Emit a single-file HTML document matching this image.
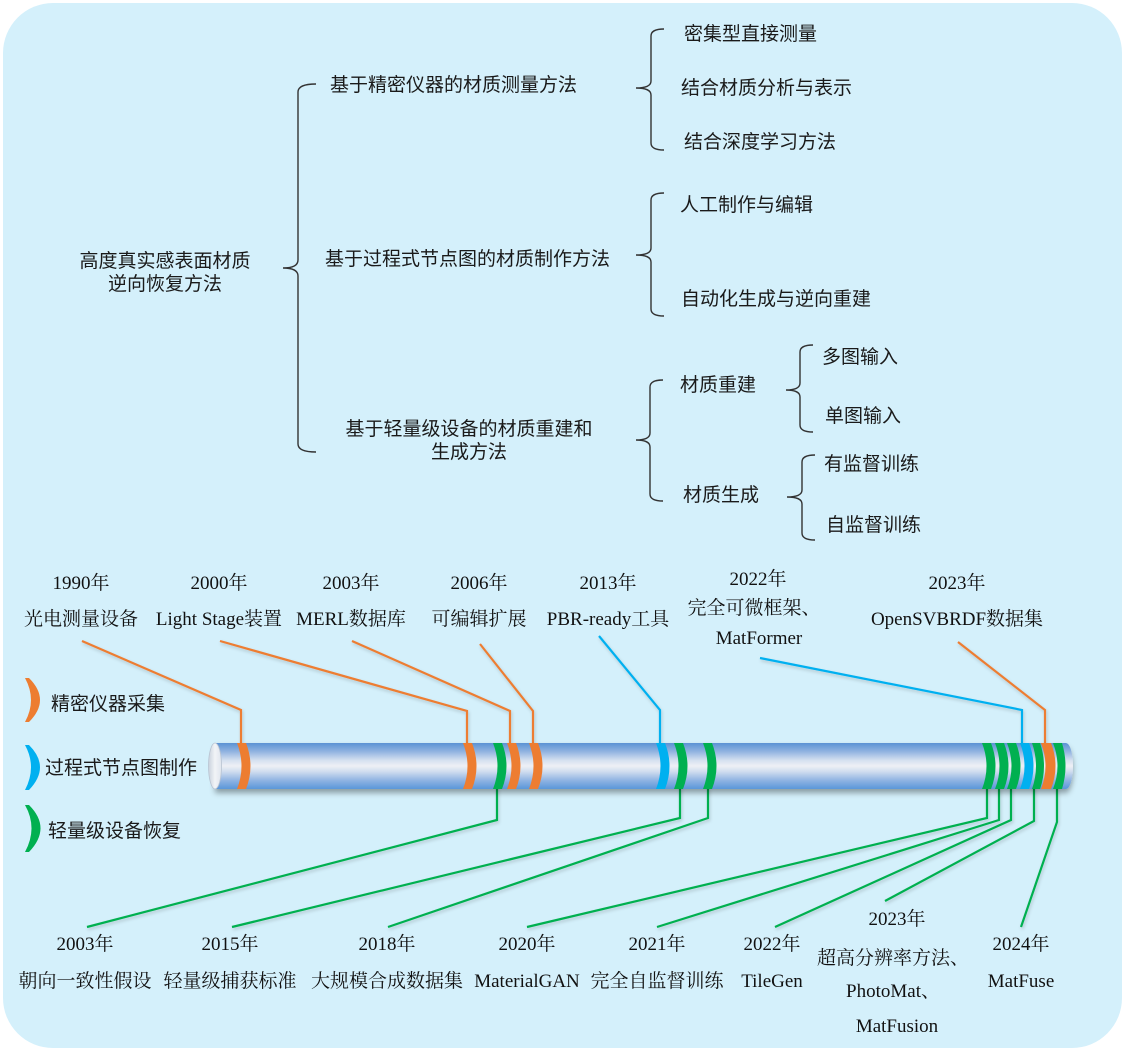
<!DOCTYPE html>
<html>
<head>
<meta charset="utf-8">
<style>
  html,body{margin:0;padding:0;background:#ffffff;}
  svg{display:block;}
  .t{font-family:"Liberation Sans","Noto Sans CJK SC",sans-serif;font-size:19px;fill:#1a1a1a;}
  .s{font-family:"Liberation Serif","Noto Serif CJK SC",serif;font-size:19px;fill:#111;}
  .br{fill:none;stroke:#333;stroke-width:1.4;}
</style>
</head>
<body>
<svg width="1126" height="1052" viewBox="0 0 1126 1052" xmlns="http://www.w3.org/2000/svg">
  <defs>
    <linearGradient id="bar" x1="0" y1="0" x2="0" y2="1">
      <stop offset="0" stop-color="#5a92d4"/>
      <stop offset="0.18" stop-color="#8fb2e0"/>
      <stop offset="0.38" stop-color="#d6e1f0"/>
      <stop offset="0.5" stop-color="#eef0f5"/>
      <stop offset="0.62" stop-color="#d0ddef"/>
      <stop offset="0.82" stop-color="#8db2e2"/>
      <stop offset="1" stop-color="#5a97da"/>
    </linearGradient>
    <linearGradient id="cap" x1="0" y1="0" x2="1" y2="0">
      <stop offset="0" stop-color="#c9d2dd"/>
      <stop offset="0.5" stop-color="#f2f4f7"/>
      <stop offset="1" stop-color="#dfe5ee"/>
    </linearGradient>
    <filter id="sh" x="-5%" y="-40%" width="110%" height="200%">
      <feDropShadow dx="0" dy="4" stdDeviation="3" flood-color="#000" flood-opacity="0.35"/>
    </filter>
    <filter id="lsh" x="-10%" y="-10%" width="120%" height="130%">
      <feDropShadow dx="1" dy="2" stdDeviation="1.5" flood-color="#000" flood-opacity="0.18"/>
    </filter>
  </defs>

  <rect x="3" y="3" width="1119" height="1045" rx="50" ry="50" fill="#d4f0fb"/>

  <!-- ===== Tree ===== -->
  <text class="t" x="165" y="267" text-anchor="middle">高度真实感表面材质</text>
  <text class="t" x="165" y="290" text-anchor="middle">逆向恢复方法</text>

  <path class="br" d="M316,84 Q298,84 298,92 L298,260 Q298,268 283,268 Q298,268 298,276 L298,444 Q298,452 316,452"/>

  <text class="t" x="330" y="91">基于精密仪器的材质测量方法</text>
  <text class="t" x="325" y="265">基于过程式节点图的材质制作方法</text>
  <text class="t" x="469" y="435" text-anchor="middle">基于轻量级设备的材质重建和</text>
  <text class="t" x="469" y="458" text-anchor="middle">生成方法</text>

  <!-- brace 2 -->
  <path class="br" d="M664,29 Q651,29 651,36 L651,81 Q651,88 636,88 Q651,88 651,95 L651,143 Q651,150 664,150"/>
  <text class="t" x="684" y="40">密集型直接测量</text>
  <text class="t" x="681" y="94">结合材质分析与表示</text>
  <text class="t" x="684" y="148">结合深度学习方法</text>

  <!-- brace 3 -->
  <path class="br" d="M664,193 Q651,193 651,200 L651,248 Q651,255 636,255 Q651,255 651,262 L651,309 Q651,316 664,316"/>
  <text class="t" x="680" y="211">人工制作与编辑</text>
  <text class="t" x="681" y="305">自动化生成与逆向重建</text>

  <!-- brace 4 -->
  <path class="br" d="M663,380 Q650,380 650,387 L650,433 Q650,440 636,440 Q650,440 650,447 L650,494 Q650,501 663,501"/>
  <text class="t" x="680" y="391">材质重建</text>
  <text class="t" x="683" y="501">材质生成</text>

  <!-- brace 5 -->
  <path class="br" d="M813,345 Q800,345 800,352 L800,383 Q800,390 786,390 Q800,390 800,397 L800,425 Q800,432 813,432"/>
  <text class="t" x="822" y="363">多图输入</text>
  <text class="t" x="825" y="422">单图输入</text>

  <!-- brace 6 -->
  <path class="br" d="M815,455 Q802,455 802,462 L802,490 Q802,497 787,497 Q802,497 802,504 L802,533 Q802,540 815,540"/>
  <text class="t" x="824" y="470">有监督训练</text>
  <text class="t" x="826" y="531">自监督训练</text>

  <!-- ===== Timeline top labels ===== -->
  <text class="s" x="81" y="589" text-anchor="middle">1990年</text>
  <text class="s" x="81" y="625" text-anchor="middle">光电测量设备</text>
  <text class="s" x="219" y="589" text-anchor="middle">2000年</text>
  <text class="s" x="219" y="625" text-anchor="middle">Light Stage装置</text>
  <text class="s" x="351" y="589" text-anchor="middle">2003年</text>
  <text class="s" x="351" y="625" text-anchor="middle">MERL数据库</text>
  <text class="s" x="479" y="589" text-anchor="middle">2006年</text>
  <text class="s" x="479" y="625" text-anchor="middle">可编辑扩展</text>
  <text class="s" x="608" y="589" text-anchor="middle">2013年</text>
  <text class="s" x="608" y="625" text-anchor="middle">PBR-ready工具</text>
  <text class="s" x="758" y="585" text-anchor="middle">2022年</text>
  <text class="s" x="754" y="614" text-anchor="middle">完全可微框架、</text>
  <text class="s" x="759" y="644" text-anchor="middle">MatFormer</text>
  <text class="s" x="957" y="589" text-anchor="middle">2023年</text>
  <text class="s" x="957" y="625" text-anchor="middle">OpenSVBRDF数据集</text>

  <!-- top leader lines -->
  <g fill="none" stroke-width="2.2" stroke-linejoin="miter" filter="url(#lsh)">
    <polyline stroke="#ed7d31" points="82,641 241,710 241,745"/>
    <polyline stroke="#ed7d31" points="220,641 467,711 467,745"/>
    <polyline stroke="#ed7d31" points="352,641 510,711 510,745"/>
    <polyline stroke="#ed7d31" points="480,644 533,711 533,745"/>
    <polyline stroke="#00b0f0" points="599,636 660,710 660,745"/>
    <polyline stroke="#00b0f0" points="760,658 1022,710 1022,745"/>
    <polyline stroke="#ed7d31" points="958,642 1045,710 1045,745"/>
  </g>

  <!-- bottom leader lines -->
  <g fill="none" stroke="#00b050" stroke-width="2.2" filter="url(#lsh)">
    <polyline points="497,787 497,820 87,927"/>
    <polyline points="680,787 680,818 232,927"/>
    <polyline points="708,787 708,818 388,927"/>
    <polyline points="987,787 987,818 527,927"/>
    <polyline points="999,787 999,820 657,927"/>
    <polyline points="1011,787 1011,820 775,927"/>
    <polyline points="1034,787 1034,821 885,901"/>
    <polyline points="1057,787 1057,822 1021,927"/>
  </g>

  <!-- ===== Bar ===== -->
  <g filter="url(#sh)">
    <path d="M215,743 L1066,743 A7,23 0 0 1 1066,789 L215,789 Z" fill="url(#bar)"/>
  </g>
  <ellipse cx="215" cy="766" rx="6.5" ry="23" fill="url(#cap)" stroke="#b9c4d2" stroke-width="0.8"/>

  <!-- bands -->
  <g>
    <path fill="#ed7d31" d="M237,743 Q246,766 237,789 L246,789 Q255,766 246,743 Z"/>
    <path fill="#ed7d31" d="M463,743 Q472,766 463,789 L472,789 Q481,766 472,743 Z"/>
    <path fill="#00b050" d="M493,743 Q502,766 493,789 L502,789 Q511,766 502,743 Z"/>
    <path fill="#ed7d31" d="M507,743 Q516,766 507,789 L516,789 Q525,766 516,743 Z"/>
    <path fill="#ed7d31" d="M529,743 Q538,766 529,789 L538,789 Q547,766 538,743 Z"/>
    <path fill="#00b0f0" d="M656,743 Q665,766 656,789 L665,789 Q674,766 665,743 Z"/>
    <path fill="#00b050" d="M674,743 Q683,766 674,789 L683,789 Q692,766 683,743 Z"/>
    <path fill="#00b050" d="M703,743 Q712,766 703,789 L712,789 Q721,766 712,743 Z"/>
    <path fill="#00b050" d="M982,743 Q991,766 982,789 L991,789 Q1000,766 991,743 Z"/>
    <path fill="#00b050" d="M995,743 Q1004,766 995,789 L1004,789 Q1013,766 1004,743 Z"/>
    <path fill="#00b050" d="M1007,743 Q1016,766 1007,789 L1016,789 Q1025,766 1016,743 Z"/>
    <path fill="#00b0f0" d="M1020,743 Q1029,766 1020,789 L1029,789 Q1038,766 1029,743 Z"/>
    <path fill="#00b050" d="M1032,743 Q1040,766 1032,789 L1040,789 Q1048,766 1040,743 Z"/>
    <path fill="#ed7d31" d="M1041,743 Q1050,766 1041,789 L1051,789 Q1060,766 1051,743 Z"/>
    <path fill="#00b050" d="M1053,743 Q1062,766 1053,789 L1062,789 Q1069,766 1062,743 Z"/>
  </g>

  <!-- ===== Legend ===== -->
  <path fill="#ed7d31" d="M25,678 L29,678 Q51,700 29,722 L25,722 Q37,700 25,678 Z"/>
  <text class="t" x="51" y="710">精密仪器采集</text>
  <path fill="#00b0f0" d="M25,745 L29,745 Q51,767 29,790 L25,790 Q37,767 25,745 Z"/>
  <text class="t" x="45" y="774">过程式节点图制作</text>
  <path fill="#00b050" d="M25,805 L29,805 Q52,828 29,852 L25,852 Q38,828 25,805 Z"/>
  <text class="t" x="48" y="837">轻量级设备恢复</text>

  <!-- ===== Timeline bottom labels ===== -->
  <text class="s" x="85" y="950" text-anchor="middle">2003年</text>
  <text class="s" x="85" y="987" text-anchor="middle">朝向一致性假设</text>
  <text class="s" x="230" y="950" text-anchor="middle">2015年</text>
  <text class="s" x="230" y="987" text-anchor="middle">轻量级捕获标准</text>
  <text class="s" x="387" y="950" text-anchor="middle">2018年</text>
  <text class="s" x="387" y="987" text-anchor="middle">大规模合成数据集</text>
  <text class="s" x="527" y="950" text-anchor="middle">2020年</text>
  <text class="s" x="527" y="987" text-anchor="middle">MaterialGAN</text>
  <text class="s" x="657" y="950" text-anchor="middle">2021年</text>
  <text class="s" x="657" y="987" text-anchor="middle">完全自监督训练</text>
  <text class="s" x="772" y="950" text-anchor="middle">2022年</text>
  <text class="s" x="772" y="987" text-anchor="middle">TileGen</text>
  <text class="s" x="897" y="925" text-anchor="middle">2023年</text>
  <text class="s" x="893" y="964" text-anchor="middle">超高分辨率方法、</text>
  <text class="s" x="893" y="997" text-anchor="middle">PhotoMat、</text>
  <text class="s" x="897" y="1032" text-anchor="middle">MatFusion</text>
  <text class="s" x="1021" y="950" text-anchor="middle">2024年</text>
  <text class="s" x="1021" y="987" text-anchor="middle">MatFuse</text>
</svg>
</body>
</html>
